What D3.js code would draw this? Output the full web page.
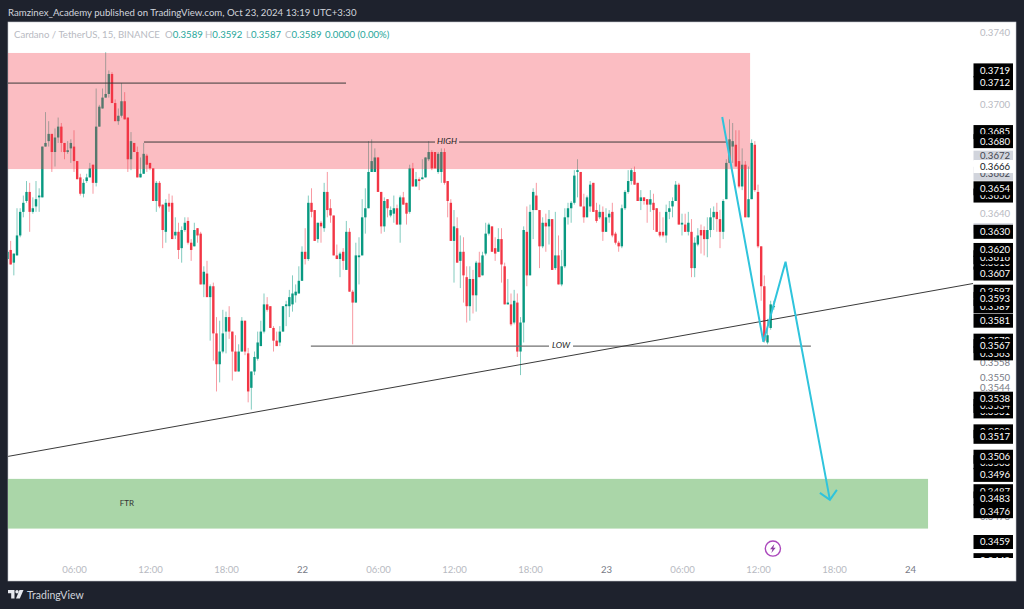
<!DOCTYPE html>
<html>
<head>
<meta charset="utf-8">
<script src="https://cdn.jsdelivr.net/npm/d3@7"></script>
<style>
  html, body { margin: 0; padding: 0; background: #1e222d; }
  svg { display: block; }
  text { font-family: Lato, sans-serif; }
</style>
</head>
<body>
<div id="chart"></div>
<script>
// 15 minute candles, prices in 1/10000 USDT, the first one is 00:45 Oct 21
var firstBar = 3;
var opens = [
  3615,3620,3613,3617,3628,3641,3647,3652,3641,3644,
  3649,3649,3677,3680,3684,3674,3682,3688,3679,3674,
  3676,3677,3669,3660,3651,3658,3660,3667,3657,3688,
  3698,3704,3706,3717,3701,3691,3694,3702,3693,3670,
  3679,3674,3660,3662,3672,3668,3665,3647,3657,3645,
  3630,3646,3646,3628,3630,3621,3631,3636,3624,3622,
  3632,3629,3601,3607,3594,3600,3574,3557,3564,3575,
  3583,3575,3564,3553,3564,3581,3563,3544,3553,3560,
  3567,3575,3590,3589,3577,3570,3569,3575,3589,3589,
  3590,3595,3596,3603,3619,3615,3646,3642,3626,3635,
  3632,3652,3643,3639,3617,3615,3619,3609,3630,3597,
  3591,3616,3617,3638,3643,3663,3663,3671,3652,3633,
  3648,3639,3640,3643,3634,3649,3646,3641,3665,3655,
  3659,3659,3660,3670,3674,3674,3663,3663,3674,3658,
  3646,3625,3632,3614,3619,3605,3589,3604,3595,3613,
  3606,3618,3629,3633,3621,3619,3626,3611,3590,3590,
  3580,3591,3564,3580,3630,3606,3642,3650,3642,3622,
  3635,3633,3637,3610,3617,3601,3611,3638,3643,3646,
  3663,3663,3644,3638,3644,3657,3642,3638,3641,3630,
  3638,3641,3629,3624,3622,3643,3652,3658,3663,3657,
  3647,3649,3648,3645,3646,3643,3630,3630,3628,3641,
  3644,3647,3656,3634,3634,3630,3630,3610,3623,3631,
  3631,3626,3631,3638,3641,3637,3630,3648,3668,3677,
  3678,3669,3655,3667,3638,3648,3678,3652,3622,3600,
  3569,3577,3589
];
var closes = [
  3619,3612,3618,3628,3641,3646,3652,3641,3643,3648,
  3650,3677,3679,3684,3674,3682,3688,3679,3674,3675,
  3679,3669,3659,3651,3657,3660,3665,3657,3688,3699,
  3704,3706,3717,3701,3691,3694,3702,3692,3670,3680,
  3674,3660,3662,3673,3667,3665,3647,3657,3644,3631,
  3646,3644,3626,3630,3620,3631,3635,3624,3620,3631,
  3628,3601,3608,3594,3600,3574,3557,3564,3574,3583,
  3575,3564,3553,3564,3581,3564,3542,3553,3561,3569,
  3575,3590,3587,3577,3570,3567,3575,3589,3590,3594,
  3596,3597,3603,3619,3615,3646,3641,3625,3635,3633,
  3652,3642,3639,3617,3615,3618,3614,3630,3597,3591,
  3617,3617,3638,3643,3663,3669,3671,3652,3633,3647,
  3643,3642,3643,3634,3649,3645,3640,3665,3655,3659,
  3658,3660,3671,3674,3665,3665,3673,3674,3657,3647,
  3625,3633,3613,3619,3606,3589,3604,3595,3613,3605,
  3617,3629,3634,3619,3618,3626,3612,3590,3591,3579,
  3592,3564,3580,3631,3606,3641,3652,3642,3622,3635,
  3633,3637,3609,3617,3601,3611,3638,3643,3646,3661,
  3664,3644,3638,3649,3656,3641,3636,3641,3630,3638,
  3640,3628,3624,3622,3643,3652,3658,3664,3656,3647,
  3649,3647,3645,3648,3642,3630,3628,3628,3641,3643,
  3647,3656,3634,3635,3630,3635,3610,3624,3628,3628,
  3626,3631,3638,3641,3637,3630,3647,3668,3681,3680,
  3666,3655,3667,3638,3648,3679,3653,3622,3600,3570,
  3573,3590,3589
];
var highs = [
  3620,3625,3618,3643,3643,3650,3658,3657,3649,3658,
  3654,3677,3696,3691,3684,3687,3693,3690,3679,3680,
  3681,3686,3669,3662,3659,3662,3668,3667,3709,3700,
  3709,3729,3719,3718,3703,3698,3712,3707,3693,3685,
  3679,3677,3671,3679,3673,3668,3665,3658,3658,3645,
  3648,3651,3650,3638,3635,3633,3638,3638,3626,3635,
  3632,3630,3611,3614,3601,3602,3583,3581,3587,3586,
  3589,3575,3573,3568,3583,3581,3566,3553,3564,3575,
  3581,3596,3594,3589,3578,3575,3578,3589,3592,3598,
  3606,3601,3611,3622,3632,3650,3654,3642,3635,3636,
  3657,3663,3648,3639,3623,3619,3621,3636,3632,3598,
  3624,3627,3648,3654,3680,3681,3676,3671,3652,3649,
  3648,3644,3650,3645,3650,3652,3646,3667,3668,3663,
  3660,3670,3671,3680,3675,3674,3674,3676,3676,3658,
  3648,3642,3638,3628,3627,3611,3611,3609,3614,3619,
  3619,3635,3635,3633,3627,3632,3632,3613,3604,3596,
  3598,3596,3583,3633,3644,3645,3654,3657,3642,3638,
  3640,3642,3637,3641,3628,3620,3643,3646,3647,3664,
  3670,3663,3651,3650,3658,3657,3646,3645,3644,3643,
  3642,3646,3630,3625,3645,3653,3664,3665,3666,3657,
  3653,3649,3648,3653,3651,3643,3641,3638,3645,3647,
  3649,3658,3657,3640,3640,3641,3637,3627,3632,3634,
  3633,3638,3643,3644,3646,3642,3648,3670,3692,3690,
  3686,3686,3676,3669,3666,3681,3680,3656,3622,3606,
  3582,3592,3592
];
var lows = [
  3614,3612,3606,3617,3627,3638,3646,3630,3640,3641,
  3641,3649,3677,3677,3663,3666,3679,3674,3670,3673,
  3668,3663,3659,3650,3649,3657,3660,3651,3655,3688,
  3698,3704,3704,3701,3691,3689,3693,3692,3663,3664,
  3674,3660,3660,3662,3663,3664,3647,3641,3643,3621,
  3624,3641,3626,3626,3615,3613,3630,3623,3614,3622,
  3624,3601,3594,3594,3570,3559,3542,3547,3563,3563,
  3571,3548,3553,3553,3564,3562,3536,3532,3551,3559,
  3567,3574,3586,3577,3564,3567,3567,3575,3578,3583,
  3586,3591,3596,3603,3612,3614,3638,3625,3624,3624,
  3630,3638,3635,3617,3615,3605,3609,3609,3597,3568,
  3591,3601,3617,3629,3643,3663,3663,3652,3629,3630,
  3638,3638,3635,3634,3624,3645,3634,3640,3655,3655,
  3653,3659,3660,3669,3664,3665,3662,3657,3656,3638,
  3625,3602,3613,3599,3591,3580,3581,3585,3586,3605,
  3606,3617,3628,3619,3614,3619,3602,3590,3590,3578,
  3579,3561,3551,3569,3600,3606,3626,3642,3610,3621,
  3619,3623,3609,3609,3601,3600,3610,3634,3635,3645,
  3649,3644,3635,3638,3641,3641,3635,3637,3625,3630,
  3635,3627,3623,3619,3621,3642,3651,3656,3656,3647,
  3642,3645,3635,3641,3631,3630,3627,3627,3624,3637,
  3638,3647,3634,3628,3630,3628,3605,3605,3622,3618,
  3617,3616,3627,3631,3630,3621,3626,3648,3668,3668,
  3666,3654,3653,3638,3638,3648,3652,3621,3592,3569,
  3568,3576,3587
];

// right axis, in the same units
var gridLabels = [3740, 3700, 3640];
var fadedLabels = [3558, 3550, 3544, 3473];
var buriedLabels = [3650, 3613, 3616, 3597, 3589, 3570, 3563, 3531, 3534, 3520, 3503, 3487, 3449];
var boxLabels = [3719, 3712, 3685, 3680, 3654, 3630, 3620, 3607, 3593, 3581, 3567, 3538, 3517, 3506, 3496, 3483, 3476, 3459];
var grayLabels = [3672, 3632];

// time axis
var timeTicks = ["2024-10-21T06:00Z", "2024-10-21T12:00Z", "2024-10-21T18:00Z", "2024-10-22T00:00Z",
  "2024-10-22T06:00Z", "2024-10-22T12:00Z", "2024-10-22T18:00Z", "2024-10-23T00:00Z",
  "2024-10-23T06:00Z", "2024-10-23T12:00Z", "2024-10-23T18:00Z", "2024-10-24T00:00Z"];

// drawings: bar number and price, bar 0 is 00:00 Oct 21
var sellZoneBars = [0, 237.5], sellZonePrices = [3728.6, 3664.6];
var buyZoneBars = [0, 293.7], buyZonePrices = [3493.8, 3466.4];
var topLineBars = [0, 109.9], topLinePrice = 3712;
var highLineBars = [46.1, 229.9], highPrice = 3679.5, highLabelBar = 141.8;
var lowLineBars = [98.8, 256.7], lowPrice = 3567, lowLabelBar = 177.8;
var trendBars = [3.2, 307.9], trendPrices = [3506.2, 3601.5];
var pathBars = [228.7, 241.7, 248.7, 262.7], pathPrices = [3693.3, 3569.3, 3613.5, 3482.2];
var ftrBar = 40.7, ftrPrice = 3480;
var iconBar = 244.7, iconPrice = 3455.4;

var width = 1024, height = 609;
var plotLeft = 8, plotTop = 22, plotRight = 1016, plotBottom = 581;
var axisFont = 9.6;

var startTime = Date.UTC(2024, 9, 21);
function barTime(n) { return new Date(startTime + n * 15 * 60000); }

var x = d3.scaleUtc().domain([new Date(startTime), new Date(Date.UTC(2024, 9, 24))]).range([-2, 910]);
var y = d3.scaleLinear().domain([3740, 3459]).range([32.3, 542]);

var svg = d3.select("#chart").append("svg").attr("width", width).attr("height", height);

// background and chart frame
svg.append("rect").attr("width", width).attr("height", height).attr("fill", "#1e222d");
svg.append("rect").attr("x", plotLeft).attr("y", plotTop)
  .attr("width", plotRight - plotLeft).attr("height", plotBottom - plotTop)
  .attr("fill", "#ffffff").attr("stroke", "#c4c6cc").attr("stroke-width", 0.6);

var defs = svg.append("defs");
defs.append("clipPath").attr("id", "plot").append("rect")
  .attr("x", plotLeft).attr("y", plotTop).attr("width", 966).attr("height", plotBottom - plotTop);
defs.append("clipPath").attr("id", "scale").append("rect")
  .attr("x", 960).attr("y", plotTop).attr("width", 56).attr("height", 536);

var plot = svg.append("g").attr("clip-path", "url(#plot)");

// candles
var barIndex = d3.range(opens.length);
var upColor = "#089981", downColor = "#f23645";
function barColor(i) { return closes[i] >= opens[i] ? upColor : downColor; }
function barX(i) { return x(barTime(firstBar + i)); }

plot.append("g").selectAll("line").data(barIndex).join("line")
  .attr("x1", barX).attr("x2", barX)
  .attr("y1", function(i) { return y(highs[i]); })
  .attr("y2", function(i) { return y(lows[i]); })
  .attr("stroke", barColor).attr("stroke-opacity", 0.5).attr("stroke-width", 1);

plot.append("g").selectAll("rect").data(barIndex).join("rect")
  .attr("x", function(i) { return barX(i) - 1.2; })
  .attr("width", 2.4)
  .attr("y", function(i) { return y(Math.max(opens[i], closes[i])); })
  .attr("height", function(i) { return Math.max(1, Math.abs(y(opens[i]) - y(closes[i]))); })
  .attr("fill", barColor);

// the two zones
plot.append("rect")
  .attr("x", x(barTime(sellZoneBars[0]))).attr("width", x(barTime(sellZoneBars[1])) - x(barTime(sellZoneBars[0])))
  .attr("y", y(sellZonePrices[0])).attr("height", y(sellZonePrices[1]) - y(sellZonePrices[0]))
  .attr("fill", "#f23645").attr("fill-opacity", 0.33);
plot.append("rect")
  .attr("x", x(barTime(buyZoneBars[0]))).attr("width", x(barTime(buyZoneBars[1])) - x(barTime(buyZoneBars[0])))
  .attr("y", y(buyZonePrices[0])).attr("height", y(buyZonePrices[1]) - y(buyZonePrices[0]))
  .attr("fill", "#aad6a8");

plot.append("text").attr("x", x(barTime(ftrBar))).attr("y", y(ftrPrice))
  .attr("font-size", 8).attr("fill", "#333").attr("text-anchor", "middle").attr("dominant-baseline", "middle")
  .text("FTR");

// straight lines, the labelled ones leave a gap for the text
function drawLine(x1, x2, p1, p2, color, w) {
  plot.append("line").attr("x1", x1).attr("x2", x2).attr("y1", y(p1)).attr("y2", y(p2))
    .attr("stroke", color).attr("stroke-width", w);
}
function labelledLine(bars, price, labelBar, label, color, w) {
  var cx = x(barTime(labelBar));
  drawLine(x(barTime(bars[0])), cx - 12, price, price, color, w);
  drawLine(cx + 12, x(barTime(bars[1])), price, price, color, w);
  plot.append("text").attr("x", cx).attr("y", y(price))
    .attr("font-size", 8.5).attr("font-style", "italic").attr("fill", "#222")
    .attr("text-anchor", "middle").attr("dominant-baseline", "middle").text(label);
}
drawLine(x(barTime(topLineBars[0])), x(barTime(topLineBars[1])), topLinePrice, topLinePrice, "#3a3a3a", 1);
labelledLine(highLineBars, highPrice, highLabelBar, "HIGH", "#3a3a3a", 1);
labelledLine(lowLineBars, lowPrice, lowLabelBar, "LOW", "#707070", 1.4);
drawLine(x(barTime(trendBars[0])), x(barTime(trendBars[1])), trendPrices[0], trendPrices[1], "#3a3a3a", 1);

// projected move
var pathLine = d3.line()
  .x(function(n) { return x(barTime(n)); })
  .y(function(n, i) { return y(pathPrices[i]); });
plot.append("path").attr("d", pathLine(pathBars))
  .attr("fill", "none").attr("stroke", "#2fc4dc").attr("stroke-width", 2).attr("stroke-linejoin", "miter");
var tipX = x(barTime(pathBars[3])), tipY = y(pathPrices[3]);
plot.append("path").attr("d", "M" + (tipX - 10) + "," + (tipY - 7) + "L" + tipX + "," + tipY + "L" + (tipX + 7) + "," + (tipY - 10))
  .attr("fill", "none").attr("stroke", "#2fc4dc").attr("stroke-width", 2);

// news marker
var icon = plot.append("g").attr("transform", "translate(" + x(barTime(iconBar)) + "," + y(iconPrice) + ")");
icon.append("circle").attr("r", 7.6).attr("fill", "#fff").attr("stroke", "#ab47bc").attr("stroke-width", 1.4);
icon.append("path").attr("d", "M1.5,-4.5L-2.8,0.6L-0.4,0.6L-1.5,4.5L2.8,-0.8L0.4,-0.8Z").attr("fill", "#8e3da3");

// right axis
var scaleGroup = svg.append("g").attr("clip-path", "url(#scale)");
function priceText(p) { return (p / 10000).toFixed(4); }

var gridAxis = d3.axisRight(y).tickValues(gridLabels).tickSize(0).tickPadding(0).tickFormat(priceText);
var gridG = scaleGroup.append("g").attr("transform", "translate(980,0)").call(gridAxis);
gridG.select(".domain").remove();
gridG.selectAll("text").attr("font-size", axisFont).attr("fill", "#b8bac2");
gridG.attr("font-family", null);

var fadedAxis = d3.axisRight(y).tickValues(fadedLabels).tickSize(0).tickPadding(0).tickFormat(priceText);
var fadedG = scaleGroup.append("g").attr("transform", "translate(980,0)").call(fadedAxis);
fadedG.select(".domain").remove();
fadedG.selectAll("text").attr("font-size", axisFont).attr("fill", "#787b86");
fadedG.attr("font-family", null);

function boxedLabels(values, boxHeight, boxFill, textFill) {
  var g = scaleGroup.append("g").selectAll("g").data(values).join("g")
    .attr("transform", function(p) { return "translate(0," + y(p) + ")"; });
  g.append("rect").attr("x", 973.5).attr("width", 39.5).attr("y", -boxHeight / 2).attr("height", boxHeight).attr("fill", boxFill);
  g.append("text").attr("x", 980).attr("dy", "0.35em").attr("font-size", axisFont).attr("fill", textFill).text(priceText);
}
boxedLabels(grayLabels, 10, "#d1d4dc", "#434651");
boxedLabels([3662], 14, "#d1d4dc", "#434651");
boxedLabels([3666], 13, "#ffffff", "#131722");
boxedLabels(buriedLabels, 14, "#000000", "#ffffff");
boxedLabels(boxLabels, 14, "#000000", "#ffffff");

// time axis
var timeAxis = d3.axisBottom(x).tickValues(timeTicks.map(function(d) { return new Date(d); })).tickSize(0).tickPadding(0)
  .tickFormat(function(d) { return d.getUTCHours() == 0 ? d3.utcFormat("%d")(d) : d3.utcFormat("%H:%M")(d); });
var timeG = svg.append("g").attr("transform", "translate(0,566)").call(timeAxis);
timeG.select(".domain").remove();
timeG.attr("font-family", null);
timeG.selectAll("text").attr("font-size", axisFont)
  .attr("fill", function(d) { return d.getUTCHours() == 0 ? "#787b86" : "#b8bac2"; });

// publisher line
svg.append("text").attr("x", 8).attr("y", 15.5).attr("font-size", 9.65).attr("fill", "#d1d4dc")
  .text("Ramzinex_Academy published on TradingView.com, Oct 23, 2024 13:19 UTC+3:30");

// legend
var legendGray = "#b8bac2", legendTeal = "#26a69a";
var legend = svg.append("text").attr("y", 37.5).attr("font-size", 9.6);
legend.append("tspan").attr("x", 14).attr("fill", legendGray).text("Cardano / TetherUS, 15, BINANCE");
var lastBar = opens.length - 1;
var legendParts = [["O", opens[lastBar], 165], ["H", highs[lastBar], 205], ["L", lows[lastBar], 246], ["C", closes[lastBar], 285]];
legendParts.forEach(function(part) {
  legend.append("tspan").attr("x", part[2]).attr("fill", legendGray).text(part[0]);
  legend.append("tspan").attr("fill", legendTeal).text(priceText(part[1]));
});
legend.append("tspan").attr("x", 325).attr("fill", legendTeal).text("0.0000 (0.00%)");

// footer logo
var logo = svg.append("g").attr("transform", "translate(8,590)").attr("fill", "#e6e8ee");
logo.append("path").attr("d", "M0,0H6.5V8.5H3.2V3.2H0Z");
logo.append("circle").attr("cx", 9).attr("cy", 1.7).attr("r", 1.7);
logo.append("path").attr("d", "M11.5,0H15.5L11.8,8.5H8Z");
svg.append("text").attr("x", 27).attr("y", 599).attr("font-size", 10.5).attr("fill", "#d1d4dc").text("TradingView");
</script>
</body>
</html>
